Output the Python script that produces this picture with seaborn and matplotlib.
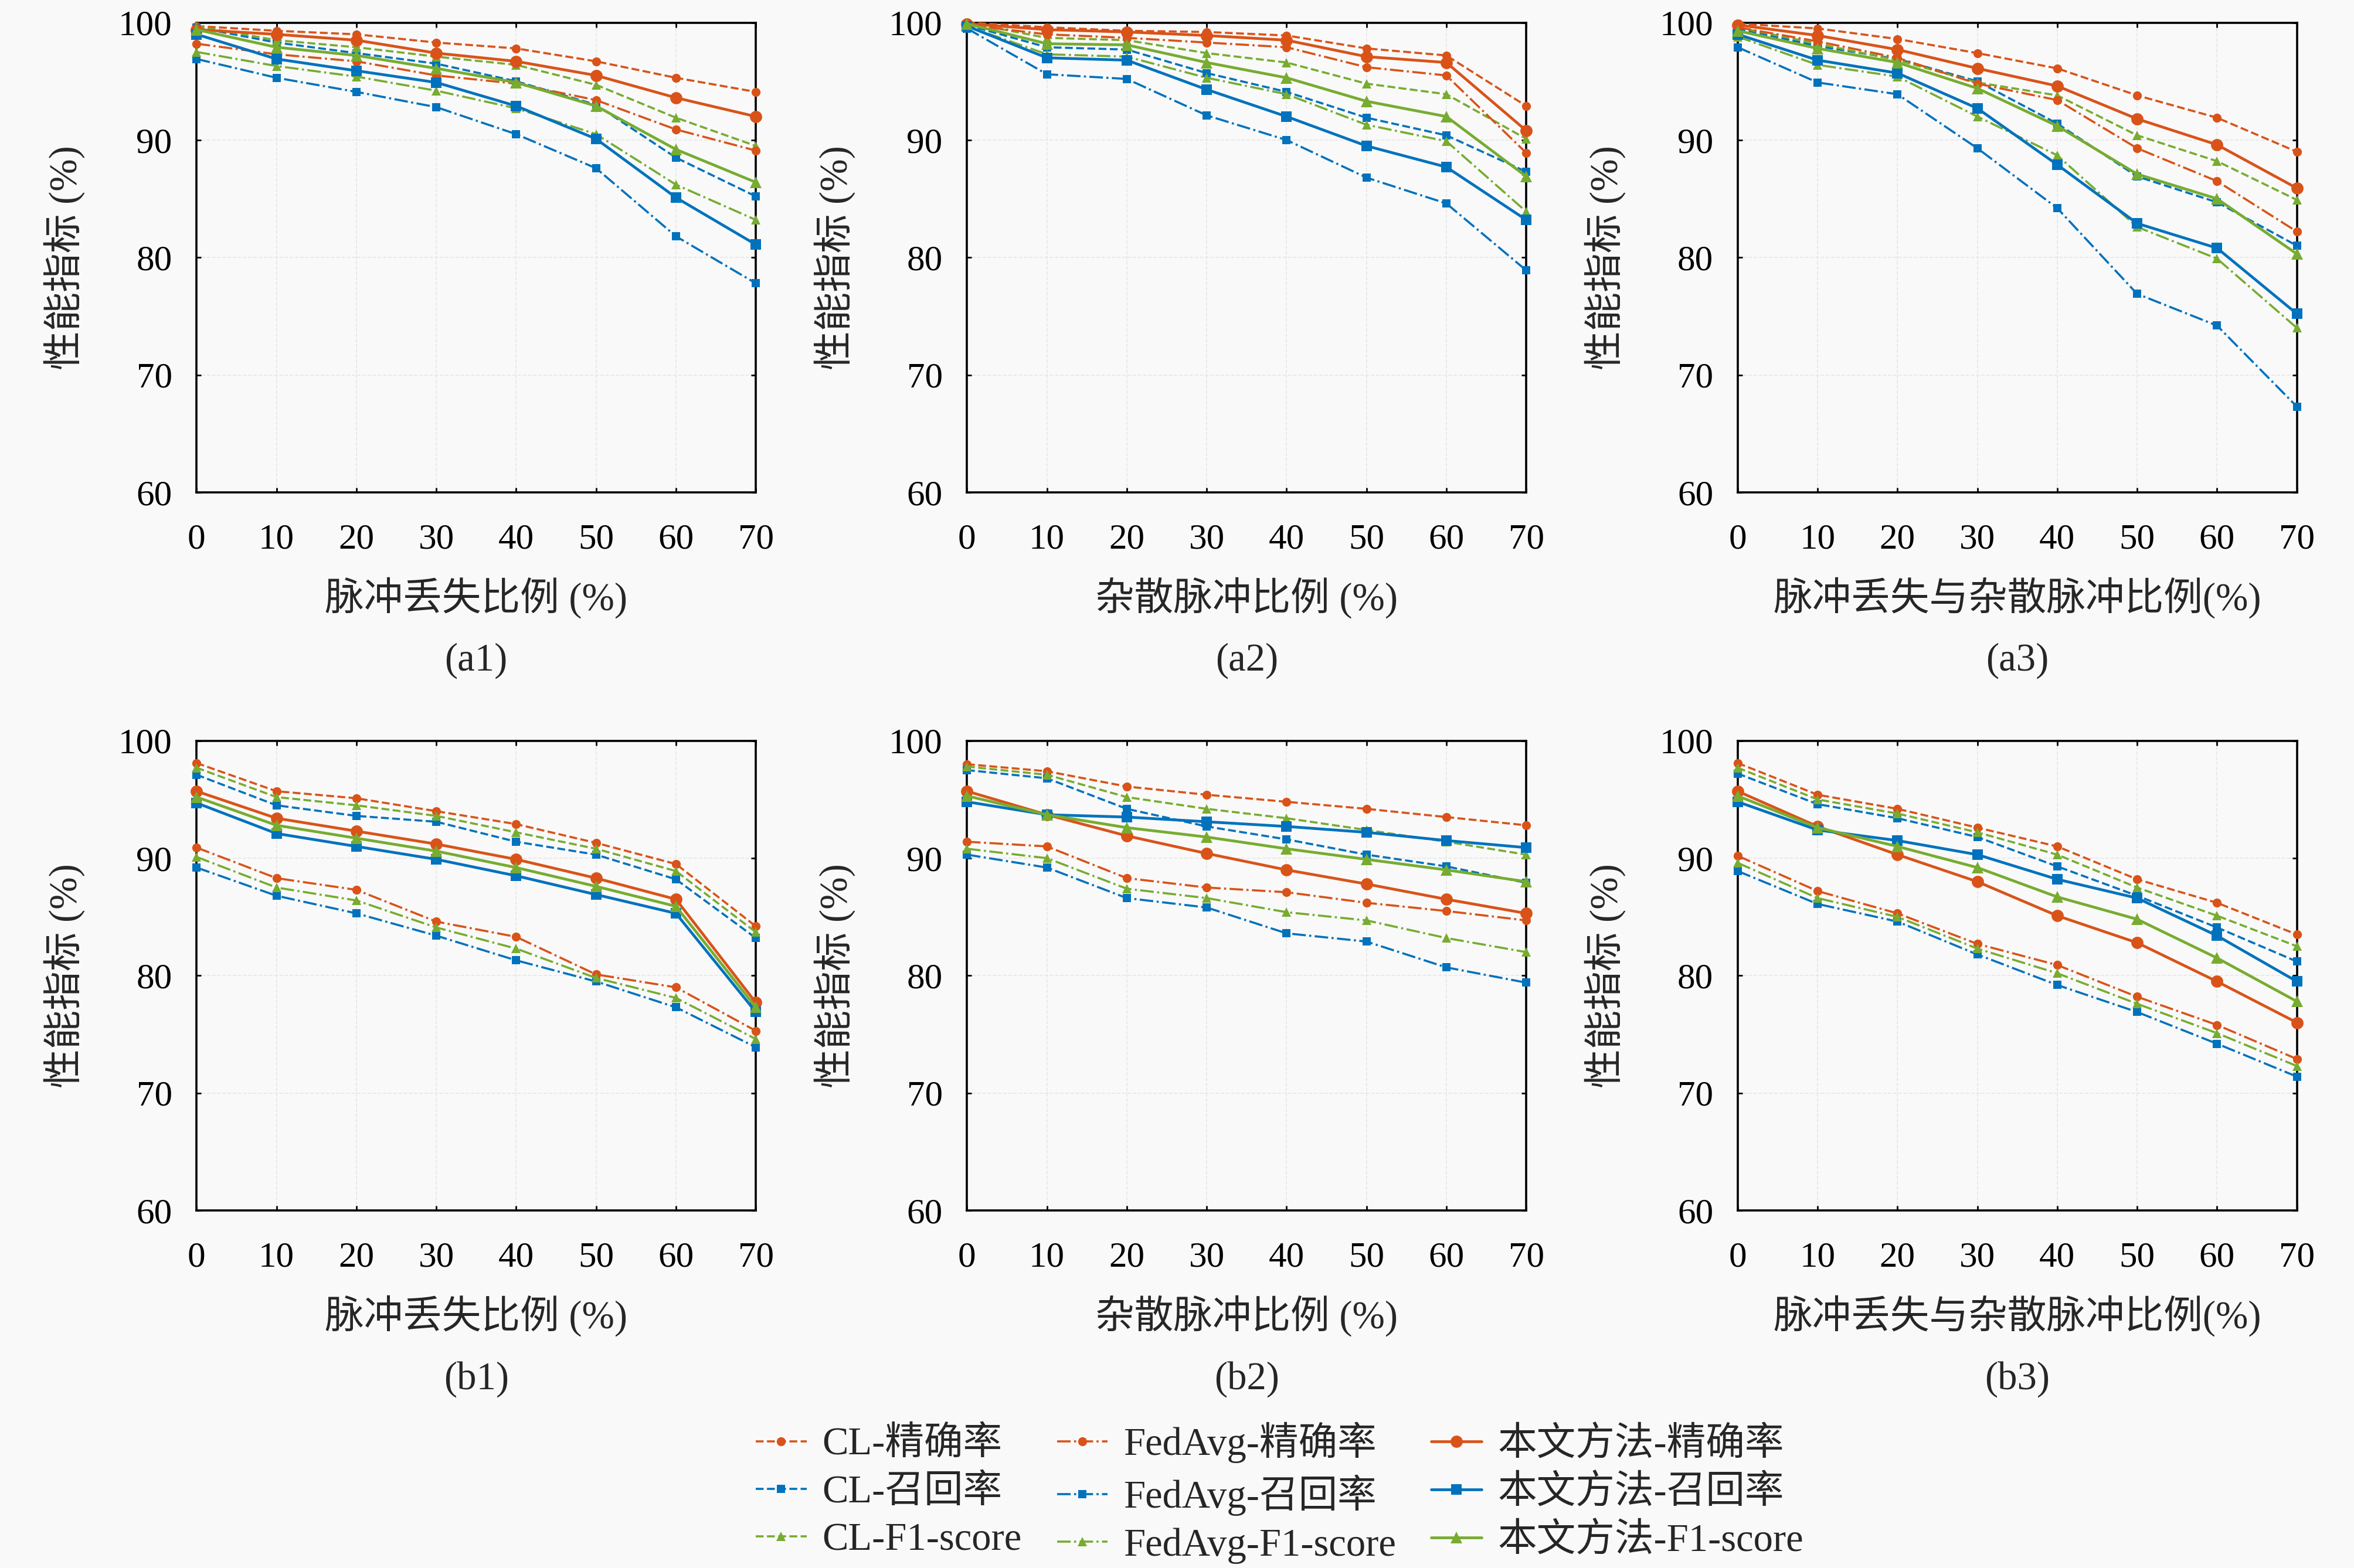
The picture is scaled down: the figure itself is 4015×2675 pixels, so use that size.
"""Performance vs pulse loss / spurious pulse ratio (CL, FedAvg, proposed)"""
import numpy as np
import pandas as pd
import matplotlib
matplotlib.use("Agg")
import matplotlib.pyplot as plt
import seaborn as sns

# ---- data ----
ratios = [0, 10, 20, 30, 40, 50, 60, 70]
y_ticks = [60, 70, 80, 90, 100]

methods = ['CL', 'FedAvg', '本文方法']
metrics = ['精确率', '召回率', 'F1-score']

x_labels = ['脉冲丢失比例 (%)', '杂散脉冲比例 (%)', '脉冲丢失与杂散脉冲比例(%)']
panel_tags = ['(a1)', '(a2)', '(a3)', '(b1)', '(b2)', '(b3)']
y_label = '性能指标 (%)'

# (a1)
a1_cl_p = [99.7, 99.3, 99.0, 98.3, 97.8, 96.7, 95.3, 94.1]
a1_cl_r = [99.6, 98.3, 97.4, 96.5, 95.0, 93.0, 88.5, 85.2]
a1_cl_f = [99.7, 98.5, 97.9, 97.1, 96.4, 94.7, 91.9, 89.5]
a1_fed_p = [98.2, 97.3, 96.7, 95.5, 94.8, 93.4, 90.9, 89.1]
a1_fed_r = [96.9, 95.3, 94.1, 92.8, 90.5, 87.6, 81.8, 77.8]
a1_fed_f = [97.5, 96.3, 95.4, 94.2, 92.7, 90.5, 86.2, 83.2]
a1_our_p = [99.4, 99.0, 98.5, 97.4, 96.7, 95.5, 93.6, 92.0]
a1_our_r = [99.0, 96.9, 95.9, 94.9, 92.9, 90.1, 85.1, 81.1]
a1_our_f = [99.4, 97.9, 97.2, 96.1, 94.9, 92.9, 89.2, 86.4]

# (a2)
a2_cl_p = [100.0, 99.6, 99.3, 99.2, 98.9, 97.8, 97.2, 92.9]
a2_cl_r = [99.8, 97.9, 97.7, 95.7, 94.1, 91.9, 90.4, 87.3]
a2_cl_f = [100.0, 98.7, 98.5, 97.4, 96.6, 94.8, 93.9, 90.1]
a2_fed_p = [99.8, 99.0, 98.7, 98.3, 97.9, 96.2, 95.5, 88.9]
a2_fed_r = [99.5, 95.6, 95.2, 92.1, 90.0, 86.8, 84.6, 78.9]
a2_fed_f = [99.7, 97.3, 97.1, 95.3, 93.9, 91.3, 89.9, 83.9]
a2_our_p = [99.9, 99.4, 99.2, 98.9, 98.5, 97.1, 96.6, 90.8]
a2_our_r = [99.7, 97.0, 96.8, 94.3, 92.0, 89.5, 87.7, 83.2]
a2_our_f = [99.9, 98.2, 98.1, 96.6, 95.3, 93.3, 92.0, 86.9]

# (a3)
a3_cl_p = [99.9, 99.5, 98.6, 97.4, 96.1, 93.8, 91.9, 89.0]
a3_cl_r = [99.5, 98.0, 96.9, 95.0, 91.4, 86.9, 84.7, 81.0]
a3_cl_f = [99.6, 98.2, 96.8, 94.9, 93.8, 90.4, 88.2, 84.9]
a3_fed_p = [99.6, 98.4, 97.0, 94.8, 93.4, 89.3, 86.5, 82.2]
a3_fed_r = [97.9, 94.9, 93.9, 89.3, 84.2, 76.9, 74.2, 67.3]
a3_fed_f = [98.8, 96.4, 95.4, 92.0, 88.7, 82.6, 79.9, 74.0]
a3_our_p = [99.8, 98.9, 97.7, 96.1, 94.6, 91.8, 89.6, 85.9]
a3_our_r = [99.0, 96.8, 95.7, 92.7, 87.9, 82.9, 80.8, 75.2]
a3_our_f = [99.3, 97.8, 96.6, 94.4, 91.2, 87.1, 85.0, 80.3]

# (b1)
b1_cl_p = [98.1, 95.7, 95.1, 94.0, 92.9, 91.3, 89.5, 84.2]
b1_cl_r = [97.1, 94.5, 93.6, 93.1, 91.4, 90.3, 88.2, 83.2]
b1_cl_f = [97.7, 95.2, 94.5, 93.6, 92.2, 90.8, 88.9, 83.7]
b1_fed_p = [90.9, 88.3, 87.3, 84.6, 83.3, 80.1, 79.0, 75.3]
b1_fed_r = [89.2, 86.8, 85.3, 83.4, 81.3, 79.5, 77.3, 73.9]
b1_fed_f = [90.1, 87.5, 86.4, 84.1, 82.3, 79.8, 78.1, 74.6]
b1_our_p = [95.7, 93.4, 92.3, 91.2, 89.9, 88.3, 86.5, 77.7]
b1_our_r = [94.7, 92.1, 91.0, 89.9, 88.5, 86.9, 85.3, 76.9]
b1_our_f = [95.2, 92.8, 91.7, 90.6, 89.2, 87.6, 85.9, 77.3]

# (b2)
b2_cl_p = [98.0, 97.4, 96.1, 95.4, 94.8, 94.2, 93.5, 92.8]
b2_cl_r = [97.5, 96.8, 94.2, 92.7, 91.6, 90.3, 89.3, 87.9]
b2_cl_f = [97.8, 97.1, 95.2, 94.2, 93.4, 92.4, 91.4, 90.3]
b2_fed_p = [91.4, 91.0, 88.3, 87.5, 87.1, 86.2, 85.5, 84.7]
b2_fed_r = [90.3, 89.2, 86.6, 85.8, 83.6, 82.9, 80.7, 79.4]
b2_fed_f = [90.8, 90.0, 87.4, 86.6, 85.4, 84.7, 83.2, 82.0]
b2_our_p = [95.7, 93.7, 91.9, 90.4, 89.0, 87.8, 86.5, 85.3]
b2_our_r = [94.8, 93.7, 93.5, 93.1, 92.7, 92.2, 91.5, 90.9]
b2_our_f = [95.3, 93.7, 92.6, 91.8, 90.8, 89.9, 89.0, 88.0]

# (b3)
b3_cl_p = [98.1, 95.4, 94.2, 92.6, 91.0, 88.2, 86.2, 83.5]
b3_cl_r = [97.2, 94.6, 93.4, 91.8, 89.3, 86.8, 84.1, 81.2]
b3_cl_f = [97.7, 95.0, 93.8, 92.2, 90.3, 87.5, 85.1, 82.5]
b3_fed_p = [90.2, 87.2, 85.3, 82.7, 80.9, 78.2, 75.8, 72.9]
b3_fed_r = [88.9, 86.1, 84.6, 81.8, 79.2, 76.9, 74.2, 71.4]
b3_fed_f = [89.6, 86.6, 85.0, 82.3, 80.2, 77.6, 75.1, 72.3]
b3_our_p = [95.7, 92.7, 90.3, 88.0, 85.1, 82.8, 79.5, 76.0]
b3_our_r = [94.8, 92.4, 91.5, 90.3, 88.2, 86.6, 83.4, 79.5]
b3_our_f = [95.3, 92.6, 91.0, 89.2, 86.7, 84.8, 81.5, 77.8]

panels = [
    [[a1_cl_p, a1_cl_r, a1_cl_f], [a1_fed_p, a1_fed_r, a1_fed_f], [a1_our_p, a1_our_r, a1_our_f]],
    [[a2_cl_p, a2_cl_r, a2_cl_f], [a2_fed_p, a2_fed_r, a2_fed_f], [a2_our_p, a2_our_r, a2_our_f]],
    [[a3_cl_p, a3_cl_r, a3_cl_f], [a3_fed_p, a3_fed_r, a3_fed_f], [a3_our_p, a3_our_r, a3_our_f]],
    [[b1_cl_p, b1_cl_r, b1_cl_f], [b1_fed_p, b1_fed_r, b1_fed_f], [b1_our_p, b1_our_r, b1_our_f]],
    [[b2_cl_p, b2_cl_r, b2_cl_f], [b2_fed_p, b2_fed_r, b2_fed_f], [b2_our_p, b2_our_r, b2_our_f]],
    [[b3_cl_p, b3_cl_r, b3_cl_f], [b3_fed_p, b3_fed_r, b3_fed_f], [b3_our_p, b3_our_r, b3_our_f]],
]

# ---- style ----
metric_colors = ['#D95319', '#0072BD', '#77AC30']
metric_markers = ['o', 's', '^']
method_ls = ['--', '-.', '-']
method_lw = [1.3, 1.3, 1.7]
small_ms = [5.5, 4.8, 5.5]
big_ms = [7.5, 6.5, 7.5]

sns.set_theme(style='ticks')
FONTS = ['Liberation Serif', 'Noto Sans CJK SC']
plt.rcParams['font.family'] = FONTS
plt.rcParams['axes.unicode_minus'] = False

BG = '#f9f9f9'
fig = plt.figure(figsize=(20.08, 13.375), dpi=200, facecolor=BG)

lefts = [0.0835, 0.4107, 0.738]
width = 0.2375
bottoms = [0.686, 0.228]
height = 0.2996

handles = {}
for idx, series in enumerate(panels):
    row, col = divmod(idx, 3)
    ax = fig.add_axes([lefts[col], bottoms[row], width, height])
    ax.set_facecolor(BG)

    for m, method in enumerate(methods):
        for k, metric in enumerate(metrics):
            df = pd.DataFrame({'ratio': ratios, 'value': series[m][k]})
            ms = big_ms[k] if m == 2 else small_ms[k]
            sns.lineplot(data=df, x='ratio', y='value', ax=ax,
                         color=metric_colors[k], linestyle=method_ls[m],
                         linewidth=method_lw[m], marker=metric_markers[k],
                         markersize=ms, markeredgewidth=0,
                         errorbar=None, clip_on=False, zorder=3 + m)
            if idx == 0:
                handles[(m, k)] = ax.lines[-1]

    ax.set_xlim(0, 70)
    ax.set_ylim(60, 100)
    ax.set_xticks(ratios)
    ax.set_yticks(y_ticks)
    ax.set_xticklabels([str(v) for v in ratios], fontfamily=FONTS, fontsize=22)
    ax.set_yticklabels([str(v) for v in y_ticks], fontfamily=FONTS, fontsize=22)
    ax.grid(True, color='#e6e6e6', linestyle='--', linewidth=0.6)
    ax.tick_params(direction='in', length=3, width=1.0, top=True, right=True,
                   colors='black')
    ax.tick_params(axis='x', pad=19)
    ax.tick_params(axis='y', pad=15)
    for sp in ax.spines.values():
        sp.set_visible(True)
        sp.set_linewidth(1.3)
        sp.set_color('black')

    ax.set_xlabel(x_labels[col], fontsize=24, fontfamily=FONTS)
    ax.xaxis.set_label_coords(0.5, -0.18)
    ax.set_ylabel(y_label, fontsize=24, fontfamily=FONTS)
    ax.yaxis.set_label_coords(-0.20, 0.5)
    ax.text(0.5, -0.32, panel_tags[idx], transform=ax.transAxes,
            ha='center', va='top', fontsize=24, fontfamily=FONTS)

order = [(m, k) for m in range(3) for k in range(3)]
labels = [f'{methods[m]}-{metrics[k]}' for m, k in order]
fig.legend([handles[o] for o in order], labels, ncol=3,
           loc='center', bbox_to_anchor=(0.5434, 0.048), frameon=False,
           prop={'family': FONTS, 'size': 24}, handlelength=1.3,
           handletextpad=0.4, columnspacing=0.9, labelspacing=0.3)

fig.savefig('out.png', dpi=200, facecolor=BG)
plt.close(fig)
